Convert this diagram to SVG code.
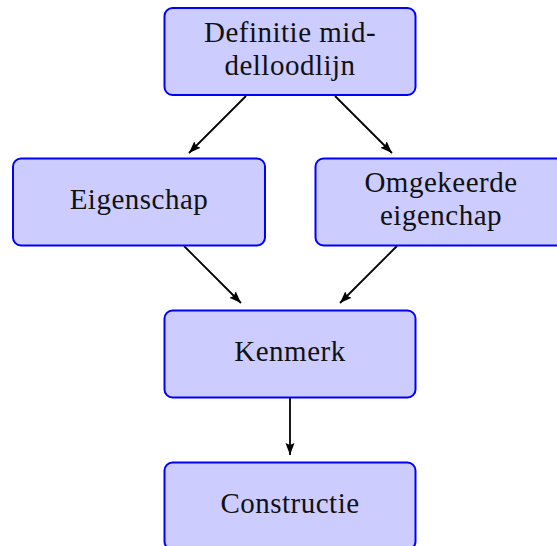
<svg xmlns="http://www.w3.org/2000/svg" width="557" height="546" viewBox="0 0 557 546">
<style>
.box{fill:#ccccff;stroke:#0000ff;stroke-width:2}
.t{font-family:"Liberation Serif","Times New Roman",serif;font-size:29px;letter-spacing:0.5px;fill:#111;text-anchor:middle}
.e{stroke:#000;stroke-width:1.8;fill:none;marker-end:url(#ah)}
</style>
<defs>
<marker id="ah" markerUnits="userSpaceOnUse" markerWidth="13" markerHeight="10" refX="12" refY="5" orient="auto">
<path d="M0,0.5 L12,5 L0,9.5 L2,5 z" fill="#000"/>
</marker>
</defs>
<rect width="557" height="546" fill="#fff"/>
<g id="connectors">
<line class="e" x1="246" y1="96" x2="189" y2="153"/>
<line class="e" x1="335" y1="96" x2="392" y2="153"/>
<line class="e" x1="184" y1="246" x2="241" y2="303"/>
<line class="e" x1="397" y1="246" x2="340" y2="303"/>
<line class="e" x1="290" y1="398" x2="290" y2="455"/>
</g>
<g id="definitie">
<rect class="box" x="164.5" y="8" width="251" height="87" rx="8"/>
<text class="t" x="290" y="42">Definitie mid-</text>
<text class="t" x="290" y="75">delloodlijn</text>
</g>
<g id="eigenschap">
<rect class="box" x="13" y="158.5" width="252" height="87" rx="8"/>
<text class="t" x="139" y="209">Eigenschap</text>
</g>
<g id="omgekeerde">
<rect class="box" x="315.5" y="158.5" width="252" height="87" rx="8"/>
<text class="t" x="441" y="192">Omgekeerde</text>
<text class="t" x="441" y="225">eigenchap</text>
</g>
<g id="kenmerk">
<rect class="box" x="164.5" y="310.5" width="251" height="87" rx="8"/>
<text class="t" x="290" y="361">Kenmerk</text>
</g>
<g id="constructie">
<rect class="box" x="164.5" y="462.5" width="251" height="87" rx="8"/>
<text class="t" x="290" y="513">Constructie</text>
</g>
</svg>
